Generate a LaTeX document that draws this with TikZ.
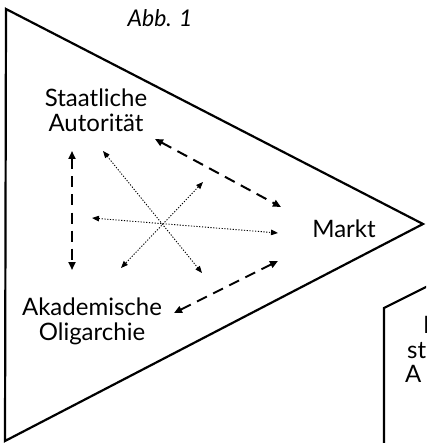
\documentclass[tikz,border=0pt]{standalone}
\usepackage{fontspec}
\setmainfont{Lato}
\usetikzlibrary{arrows.meta}
\begin{document}
\begin{tikzpicture}[x=1pt,y=-1pt,
  lbl/.style={inner sep=0pt,align=center,font=\fontsize{24}{25}\selectfont},
  frame/.style={line width=2.2pt,line join=miter},
  dasharrow/.style={line width=2pt,dash pattern=on 11pt off 7pt,{Triangle[length=8pt,width=7pt]}-{Triangle[length=8pt,width=7pt]}},
  dotarrow/.style={line width=0.9pt,dash pattern=on 1.2pt off 1.6pt,{Triangle[length=7pt,width=5.5pt]}-{Triangle[length=7pt,width=5.5pt]}}]
\useasboundingbox (0,0) rectangle (426,443);
\clip (0,0) rectangle (426,443);
% main triangle
\draw[frame] (6,9) -- (423,224) -- (5,441) -- cycle;
% neighbouring shape
\draw[frame] (384,450) -- (384,308) -- (430,285);
\node[lbl,anchor=base west] (n1) at (423,333) {I};
\node[lbl,anchor=base west] (n2) at (407,358) {st};
\node[lbl,anchor=base west] (n3) at (405,382) {A};
% labels
\node[inner sep=0pt,font=\fontsize{23}{25}\selectfont\itshape] (abb) at (160,18) {Abb. 1};
\node[lbl] (sa) at (96,110) {Staatliche\\Autorität};
\node[lbl] (mk) at (344,229) {Markt};
\node[lbl] (ao) at (92,321) {Akademische\\Oligarchie};
% arrow end coordinates
\coordinate (v1) at (72,151);
\coordinate (v2) at (72,270);
\coordinate (t1) at (155,139);
\coordinate (t2) at (281,207);
\coordinate (b1) at (278,261);
\coordinate (b2) at (174,313);
\coordinate (a1) at (103,151);
\coordinate (a2) at (202,273);
\coordinate (c1) at (203,182);
\coordinate (c2) at (121,268);
\coordinate (h1) at (92,218);
\coordinate (h2) at (278,233);
% dashed arrows
\draw[dasharrow] (v1) -- (v2);
\draw[dasharrow] (t1) -- (t2);
\draw[dasharrow] (b1) -- (b2);
% dotted arrows
\draw[dotarrow] (a1) -- (a2);
\draw[dotarrow] (c1) -- (c2);
\draw[dotarrow] (h1) -- (h2);
\end{tikzpicture}
\end{document}
